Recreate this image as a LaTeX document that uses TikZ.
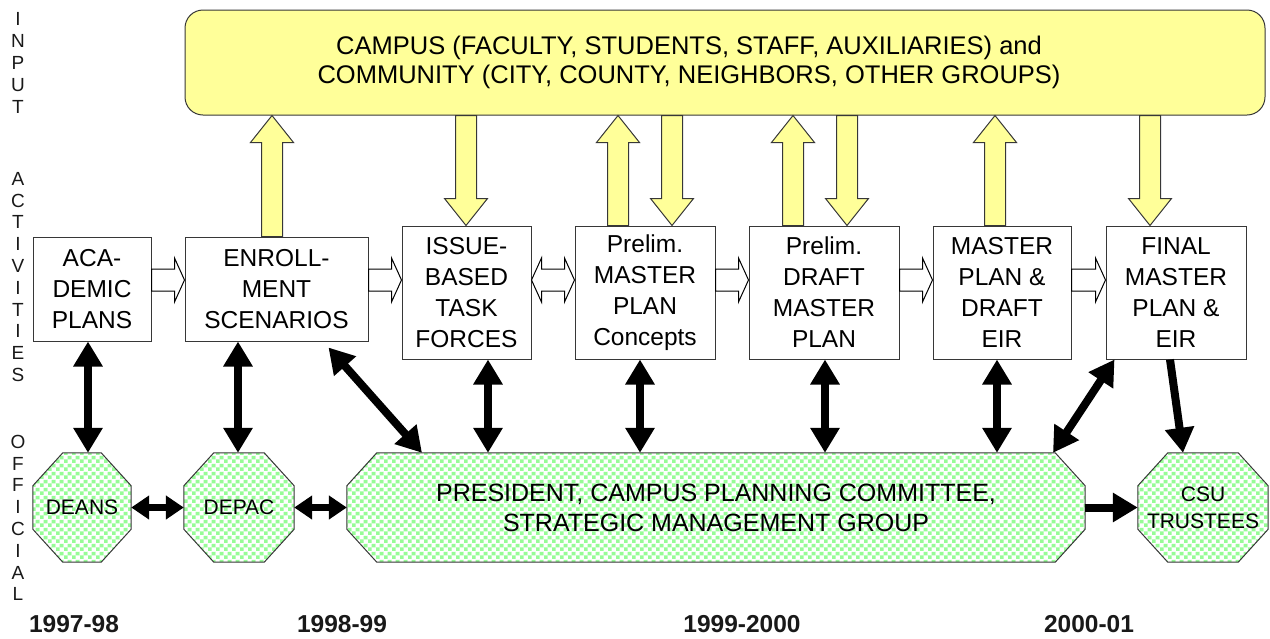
\documentclass[tikz,border=0pt]{standalone}
\usepackage{fontspec}
\setmainfont{Liberation Sans}
\usepackage{xcolor}
\definecolor{butter}{RGB}{255,255,153}
\definecolor{mint}{RGB}{150,252,150}
\definecolor{ink}{RGB}{25,25,25}
\definecolor{rim}{RGB}{55,55,55}
\usepackage{tikz}
\usetikzlibrary{arrows.meta,calc,backgrounds,patterns.meta}
\tikzdeclarepattern{
  name=mintchecks,
  type=colored,
  bounding box={(0pt,0pt) and (8pt,8pt)},
  tile size={(8pt,8pt)},
  code={
    \fill[white] (0pt,0pt) rectangle (8pt,8pt);
    \fill[mint] (0pt,0pt) rectangle (4pt,4pt);
    \fill[mint] (4pt,4pt) rectangle (8pt,8pt);
  }
}
\tikzset{
  fat/.tip={Triangle[length=25pt,width=28pt]},
  slim/.tip={Triangle[length=18pt,width=23pt]},
  sidelbl/.style={inner sep=0pt, align=center, text=ink,
    font=\fontsize{19}{21.8}\selectfont},
  yearlbl/.style={inner sep=0pt, text=ink,
    font=\fontsize{24.5}{28}\selectfont\bfseries},
  inputbox/.style={draw=rim, line width=1pt, fill=butter, rounded corners=18pt,
    minimum width=1080pt, minimum height=105pt, inner sep=0pt},
  inputtext/.style={inner sep=0pt, align=center,
    font=\fontsize{25.5}{29}\selectfont},
  actbox/.style={draw=rim, line width=1pt, fill=white, inner sep=0pt,
    align=center, minimum height=133pt,
    font=\fontsize{24.5}{31}\selectfont},
  offbox/.style={rectangle, inner sep=0pt, align=center,
    minimum height=109pt, font=\fontsize{21}{27}\selectfont},
  octfill/.style={draw=rim, line width=1pt, preaction={fill=white},
    pattern=mintchecks, line join=miter},
  fatarrow/.style={draw=rim, line width=1pt, fill=butter, line join=miter},
  hollow/.style={draw=black, line width=1pt, fill=white, line join=miter},
  blkboth/.style={draw=black, line width=8pt, fat-fat},
  blkone/.style={draw=black, line width=8pt, -fat},
  blkside/.style={draw=black, line width=7pt, slim-slim},
}
\newcommand{\octagon}[1]{%
  \filldraw[octfill] let \p1=(#1.south west), \p2=(#1.north east) in
    (\x1+30pt,\y1) -- (\x2-30pt,\y1) -- (\x2,\y1+33pt) -- (\x2,\y2-33pt)
    -- (\x2-30pt,\y2) -- (\x1+30pt,\y2) -- (\x1,\y2-33pt) -- (\x1,\y1+33pt) -- cycle;}
\newcommand{\yelup}[2]{%
  \filldraw[fatarrow] let \p1=(#2,0 |- #1.north), \p2=(#2,0 |- input.south) in
    (\x1-10.5pt,\y1) -- (\x1-10.5pt,\y2-27pt) -- (\x1-21.5pt,\y2-27pt) -- (\x2,\y2)
    -- (\x1+21.5pt,\y2-27pt) -- (\x1+10.5pt,\y2-27pt) -- (\x1+10.5pt,\y1) -- cycle;}
\newcommand{\yeldown}[2]{%
  \filldraw[fatarrow] let \p1=(#2,0 |- input.south), \p2=(#2,0 |- #1.north) in
    (\x1-10.5pt,\y1) -- (\x1-10.5pt,\y2+27pt) -- (\x1-21.5pt,\y2+27pt) -- (\x2,\y2)
    -- (\x1+21.5pt,\y2+27pt) -- (\x1+10.5pt,\y2+27pt) -- (\x1+10.5pt,\y1) -- cycle;}
\newcommand{\hollowto}[2]{%
  \filldraw[hollow] let \p1=(#1.east |- 0,280), \p2=(#2.west |- 0,280) in
    (\x1,\y1+11pt) -- (\x2-10pt,\y1+11pt) -- (\x2-10pt,\y1+22pt) -- (\x2,\y2)
    -- (\x2-10pt,\y1-22pt) -- (\x2-10pt,\y1-11pt) -- (\x1,\y1-11pt) -- cycle;}
\newcommand{\hollowboth}[2]{%
  \filldraw[hollow] let \p1=(#1.east |- 0,280), \p2=(#2.west |- 0,280) in
    (\x1,\y1) -- (\x1+10pt,\y1+22pt) -- (\x1+10pt,\y1+11pt) -- (\x2-10pt,\y1+11pt)
    -- (\x2-10pt,\y1+22pt) -- (\x2,\y2) -- (\x2-10pt,\y1-22pt) -- (\x2-10pt,\y1-11pt)
    -- (\x1+10pt,\y1-11pt) -- (\x1+10pt,\y1-22pt) -- cycle;}
\begin{document}
\begin{tikzpicture}[x=1pt,y=-1pt]
\useasboundingbox (0,0) rectangle (1270,638);
\node[sidelbl] (lin) at (18,63) {I\\N\\P\\U\\T};
\node[sidelbl] (lact) at (18,277) {A\\C\\T\\I\\V\\I\\T\\I\\E\\S};
\node[sidelbl] (loff) at (18,518) {O\\F\\F\\I\\C\\I\\A\\L};

\node[inputbox] (input) at (725,62.5) {};
\node[inputtext] (inputtxt) at (689,62)
  {CAMPUS (FACULTY, STUDENTS, STAFF, AUXILIARIES) and\\
   COMMUNITY (CITY, COUNTY, NEIGHBORS, OTHER GROUPS)};

\node[actbox, minimum width=118pt, minimum height=104pt] (aca) at (92,289) {ACA-\\DEMIC\\PLANS};
\node[actbox, minimum width=183pt, minimum height=104pt] (enr) at (276.5,289) {ENROLL-\\MENT\\SCENARIOS};
\node[actbox, minimum width=129pt] (iss) at (466.5,292.5) {ISSUE-\\BASED\\TASK\\FORCES};
\node[actbox, minimum width=140pt] (pmp) at (645,292.5) {Prelim.\\MASTER\\PLAN\\Concepts};
\node[actbox, minimum width=150pt] (pdm) at (824,292.5) {Prelim.\\DRAFT\\MASTER\\PLAN};
\node[actbox, minimum width=138pt] (mpd) at (1002,292.5) {MASTER\\PLAN \&\\DRAFT\\EIR};
\node[actbox, minimum width=140pt] (fin) at (1176,292.5) {FINAL\\MASTER\\PLAN \&\\EIR};

\node[offbox, minimum width=98pt] (deans) at (82,507.5) {DEANS};
\node[offbox, minimum width=110pt] (depac) at (239,507.5) {DEPAC};
\node[offbox, minimum width=738pt, font=\fontsize{25}{30}\selectfont] (pres) at (716,507.5)
  {PRESIDENT, CAMPUS PLANNING COMMITTEE,\\STRATEGIC MANAGEMENT GROUP};
\node[offbox, minimum width=130pt] (csu) at (1203,507.5) {CSU\\TRUSTEES};
\begin{scope}[on background layer]
\octagon{deans}
\octagon{depac}
\octagon{pres}
\octagon{csu}
\end{scope}

\node[yearlbl] (y1) at (74,624) {1997-98};
\node[yearlbl] (y2) at (342,624) {1998-99};
\node[yearlbl] (y3) at (742,624) {1999-2000};
\node[yearlbl] (y4) at (1089,624) {2000-01};

\yelup{enr}{272}
\yeldown{iss}{466}
\yelup{pmp}{618}
\yeldown{pmp}{672}
\yelup{pdm}{793}
\yeldown{pdm}{847}
\yelup{mpd}{995}
\yeldown{fin}{1150}

\hollowto{aca}{enr}
\hollowto{enr}{iss}
\hollowboth{iss}{pmp}
\hollowto{pmp}{pdm}
\hollowto{pdm}{mpd}
\hollowto{mpd}{fin}

\draw[blkboth] (88,0 |- aca.south) -- (88,0 |- deans.north);
\draw[blkboth] (238,0 |- enr.south) -- (238,0 |- depac.north);
\draw[blkboth] ([shift={(-40,6)}]enr.south east) -- (422,0 |- pres.north);
\draw[blkboth] (488,0 |- iss.south) -- (488,0 |- pres.north);
\draw[blkboth] (640,0 |- pmp.south) -- (640,0 |- pres.north);
\draw[blkboth] (825,0 |- pdm.south) -- (825,0 |- pres.north);
\draw[blkboth] (997,0 |- mpd.south) -- (997,0 |- pres.north);
\draw[blkboth] ([xshift=9pt]fin.south west) -- (1053,0 |- pres.north);
\draw[blkone] (1170,0 |- fin.south) -- (1183,0 |- csu.north);
\draw[blkside] (deans.east) -- (depac.west);
\draw[blkside] (depac.east) -- (pres.west);
\draw[blkone] (pres.east) -- (csu.west);
\end{tikzpicture}
\end{document}
